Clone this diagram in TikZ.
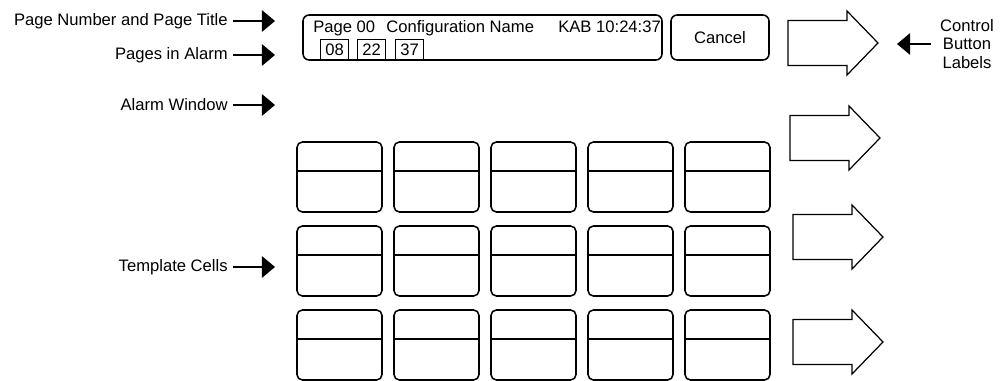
\documentclass[tikz,border=0pt]{standalone}
\usepackage{fontspec}
\setmainfont{Liberation Sans}
\usetikzlibrary{arrows.meta,positioning}

\begin{document}
\begin{tikzpicture}[x=0.65pt,y=-0.65pt,>={Triangle[length=8.5pt,width=14pt]},
  lbl/.style={font=\fontsize{10.8}{13}\selectfont,inner sep=0pt},
  pointer/.style={->,line width=0.8pt},
  frame/.style={draw,line width=1pt,rounded corners=4pt,inner sep=0pt},
  tag/.style={lbl,draw,line width=0.8pt,minimum width=28*0.65pt,minimum height=20*0.65pt,anchor=south west},
  cell/.style={draw,line width=1pt,rounded corners=3.5pt,minimum width=85*0.65pt,minimum height=70*0.65pt},
  btn/.style={draw,line width=0.8pt}]
  \useasboundingbox (0,0) rectangle (1000,381);

  % labels on the left
  \node[lbl,anchor=east] (pagetitle) at (228,21) {Page Number and Page Title};
  \node[lbl,anchor=east] (inalarm) at (228,55) {Pages in Alarm};
  \node[lbl,anchor=east] (window) at (228,105) {Alarm Window};
  \node[lbl,anchor=east] (cells) at (228,267) {Template Cells};
  \foreach \n in {pagetitle,inalarm,window,cells} {
    \coordinate (\n-tip) at (275,0 |- \n.east);
    \draw[pointer] ([xshift=3.5pt]\n.east) -- (\n-tip);
  }

  % page bar
  \node[frame,minimum width=359*0.65pt,minimum height=45*0.65pt] (pagebar) at (482.5,37.5) {};
  \node[lbl,anchor=base west] (pagenum) at (313,33) {Page 00};
  \node[lbl,anchor=base west] (config) at (386,33) {Configuration Name};
  \node[lbl,anchor=base west] (clock) at (558,33) {KAB 10:24:37};
  \node[tag] (p08) at (320,60) {08};
  \node[tag] (p22) at (357,60) {22};
  \node[tag] (p37) at (395,60) {37};
  \node[frame,lbl,minimum width=98*0.65pt,minimum height=45*0.65pt] (cancel) at (720,37.5) {Cancel};

  % template cells
  \foreach \r in {0,1,2}
    \foreach \c in {0,...,4} {
      \node[cell] (cell-\r-\c) at (339.5+97*\c,177+84*\r) {};
      \draw[line width=1pt] ([yshift=3.9pt]cell-\r-\c.west) -- ([yshift=3.9pt]cell-\r-\c.east);
    }

  % control button arrows
  \foreach \x/\y in {788/43,790/138,793/237,793/342}
    \draw[btn] (\x,\y-22.5) -- (\x+59,\y-22.5) -- (\x+59,\y-32) -- (\x+90,\y)
      -- (\x+59,\y+32) -- (\x+59,\y+22.5) -- (\x,\y+22.5) -- cycle;

  \node[lbl,align=center] (ctrl) at (967,44) {Control\\[-1pt]Button\\[-1pt]Labels};
  \coordinate (ctrl-tip) at (897,0 |- ctrl.west);
  \draw[pointer] ([xshift=-6pt]ctrl.west) -- (ctrl-tip);
\end{tikzpicture}
\end{document}
